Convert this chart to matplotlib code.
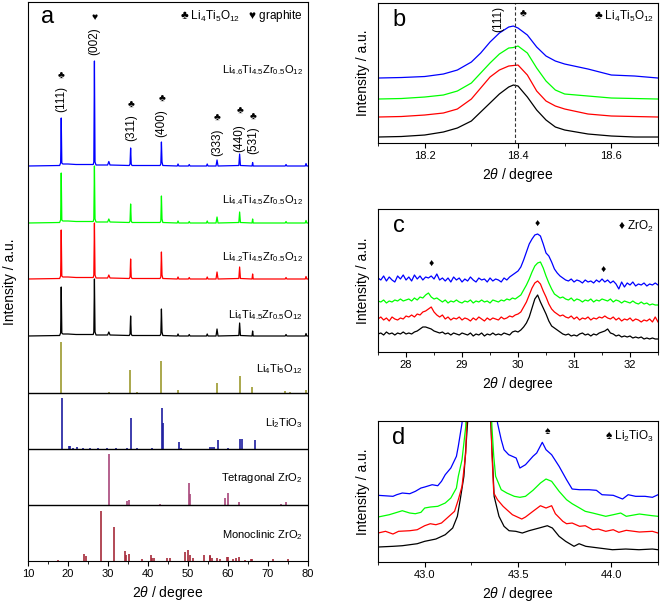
import matplotlib
matplotlib.use("Agg")
import matplotlib.pyplot as plt
from matplotlib.ticker import MultipleLocator, FormatStrFormatter

plt.rcParams['font.family'] = ['Liberation Sans', 'DejaVu Sans']
plt.rcParams['mathtext.fontset'] = 'custom'
plt.rcParams['mathtext.rm'] = 'Liberation Sans'
plt.rcParams['mathtext.it'] = 'Liberation Sans:italic'
plt.rcParams['mathtext.default'] = 'rm'

# ---------------- panel a : full patterns ----------------
two_theta_a = [10, 17.9, 18.15, 18.3, 18.45, 18.7, 20, 22, 24, 26.3, 26.45, 26.6, 26.75, 27,
               29.9, 30.2, 30.5, 35.3, 35.5, 35.65, 35.8, 36.0, 43.0, 43.2, 43.35, 43.5, 43.7,
               47.3, 47.5, 47.7, 50.1, 50.3, 50.5, 54.6, 54.8, 55.0, 57.0, 57.25, 57.5,
               62.7, 62.9, 63.1, 66.0, 66.15, 66.3, 74.3, 74.5, 74.7, 79.3, 79.5, 79.7, 80]
li46_a = [0, 0.5, 3, 48, 3, 2, 2, 1.5, 1.5, 1.5, 4, 105, 4, 1, 1, 4.5, 1, 0.5, 2, 18, 2, 0.5,
          0.5, 2, 24, 4, 0.5, 0, 2, 0, 0, 1.5, 0, 0, 2, 0, 0, 6, 0, 0.5, 12, 0.5, 0, 3.5, 0,
          0, 1.5, 0, 0, 2.5, 0, 0]
li44_a = [0, 0.5, 3, 50, 3, 2, 2, 1.5, 1.5, 1.5, 4, 57, 4, 1, 1, 4, 1, 0.5, 2, 19, 2, 0.5,
          0.5, 2, 27, 4, 0.5, 0, 2, 0, 0, 1.5, 0, 0, 2, 0, 0, 6, 0, 0.5, 11, 0.5, 0, 4, 0,
          0, 1.5, 0, 0, 2.5, 0, 0]
li42_a = [0, 0.5, 3, 49, 3, 2, 2, 1.5, 1.5, 1.5, 4, 56, 4, 1, 1, 4, 1, 0.5, 2, 20, 2, 0.5,
          0.5, 2, 27, 4, 0.5, 0, 2, 0, 0, 1.5, 0, 0, 2, 0, 0, 7, 0, 0.5, 12, 0.5, 0, 5, 0,
          0, 1.5, 0, 0, 2.5, 0, 0]
li40_a = [0, 0.5, 3, 49, 3, 2, 2, 1.5, 1.5, 1.5, 4, 57, 4, 1, 1, 4, 1, 0.5, 2, 20, 2, 0.5,
          0.5, 2, 27, 4, 0.5, 0, 2, 0, 0, 1.5, 0, 0, 2, 0, 0, 7, 0, 0.5, 13, 0.5, 0, 5, 0,
          0, 1.5, 0, 0, 2.5, 0, 0]

lto_pos = [18.3, 30.2, 35.6, 37.3, 43.3, 47.4, 57.2, 62.9, 66.1, 74.3, 75.4, 79.4]
lto_int = [51, 1, 23, 1, 32, 3, 10, 17, 6, 2, 1, 3]
l2t_pos = [18.4, 20.3, 20.5, 21.2, 22.2, 23.7, 25.5, 27.4, 29.8, 32.0, 34.7, 35.8, 37.3,
           41.0, 43.6, 43.7, 47.7, 48.2, 55.6, 56.0, 56.6, 57.6, 60.0, 63.1, 63.4, 66.8]
l2t_int = [51, 3, 3, 1, 2, 0.7, 0.7, 0.5, 0.7, 0.7, 0.7, 31, 1, 0.5, 41, 26, 7, 1, 1.5, 1.5,
           1.5, 9, 1, 10, 10, 9]
tzr_pos = [30.2, 34.8, 35.2, 43.0, 50.2, 50.6, 59.3, 60.1, 62.8, 73.3, 74.5]
tzr_int = [51, 4, 5, 1, 22, 11, 7, 12, 3, 1, 3]
mzr_pos = [17.5, 24.0, 24.4, 28.2, 31.5, 34.2, 34.4, 35.3, 38.6, 40.7, 41.0, 41.4, 44.8, 45.5,
           49.3, 50.1, 50.6, 51.2, 54.1, 55.4, 55.6, 56.0, 57.2, 58.0, 59.8, 60.0, 61.3, 62.0,
           62.8, 64.2, 65.7, 66.0, 71.2, 75.0]
mzr_int = [1, 7, 5, 50, 34, 10, 6, 7, 2, 6, 3, 3, 3, 3, 9, 11, 6, 3, 6, 6, 5, 3, 3, 2, 4, 4,
           2, 3, 4, 1, 2, 2, 2, 2]

# ---------------- panel b : (111) ----------------
two_theta_b = [18.10, 18.15, 18.20, 18.24, 18.27, 18.30, 18.32, 18.34, 18.36, 18.38, 18.39,
               18.40, 18.42, 18.44, 18.46, 18.48, 18.50, 18.55, 18.60, 18.65, 18.70]
li40_b = [6, 6.5, 8, 11, 15, 22, 31, 40, 49, 56, 58, 57, 46, 33, 23, 16, 13, 9, 7, 6, 6]
li42_b = [26, 26.5, 28, 30, 34, 44, 55, 66, 73, 77, 77.5, 78, 68, 52, 42, 37, 34, 29, 27, 26.5, 26]
li44_b = [44, 44.5, 46, 48, 52, 60, 70, 80, 89, 95, 95.5, 97, 90, 75, 62, 53, 49, 47, 45, 44.5, 44]
li46_b = [65, 65.5, 66.5, 69, 73, 81, 90, 101, 110, 116, 117, 115, 108, 96, 87, 82, 79, 74, 68, 67, 65]

# ---------------- panel c : ZrO2 region ----------------
two_theta_c = [27.50, 27.55, 27.60, 27.65, 27.70, 27.75, 27.80, 27.85, 27.90, 27.95,
               28.00, 28.05, 28.10, 28.15, 28.20, 28.25, 28.30, 28.35, 28.40, 28.45,
               28.50, 28.55, 28.60, 28.65, 28.70, 28.75, 28.80, 28.85, 28.90, 28.95,
               29.00, 29.05, 29.10, 29.15, 29.20, 29.25, 29.30, 29.35, 29.40, 29.45,
               29.50, 29.55, 29.60, 29.65, 29.70, 29.75, 29.80, 29.85, 29.90, 29.95,
               30.00, 30.05, 30.10, 30.15, 30.20, 30.25, 30.30, 30.35, 30.40, 30.45,
               30.50, 30.55, 30.60, 30.65, 30.70, 30.75, 30.80, 30.85, 30.90, 30.95,
               31.00, 31.05, 31.10, 31.15, 31.20, 31.25, 31.30, 31.35, 31.40, 31.45,
               31.50, 31.55, 31.60, 31.65, 31.70, 31.75, 31.80, 31.85, 31.90, 31.95,
               32.00, 32.05, 32.10, 32.15, 32.20, 32.25, 32.30, 32.35, 32.40, 32.45, 32.50]
li40_c = [18, 19, 17, 20, 18, 19, 17, 19, 18, 20,
          18, 19, 18, 20, 21, 23, 25, 25, 24, 23,
          21, 20, 19, 20, 18, 19, 17, 19, 18, 17,
          19, 18, 17, 19, 16, 18, 17, 19, 16, 18,
          17, 19, 17, 18, 17, 19, 18, 17, 20, 21,
          20, 22, 25, 29, 35, 44, 53, 57, 50, 44,
          38, 31, 26, 24, 22, 20, 18, 17, 18, 16,
          17, 16, 18, 19, 17, 18, 16, 18, 17, 19,
          20, 21, 23, 19, 18, 16, 17, 15, 16, 15,
          16, 14, 15, 14, 15, 13, 14, 13, 14, 13, 13]
li42_c = [33, 35, 32, 34, 31, 35, 33, 32, 34, 33,
          36, 35, 37, 35, 38, 37, 40, 41, 43, 45,
          40, 37, 35, 37, 33, 35, 32, 34, 33, 35,
          32, 34, 33, 31, 34, 32, 35, 33, 31, 34,
          32, 34, 33, 32, 35, 33, 34, 36, 35, 37,
          38, 40, 45, 50, 57, 64, 69, 71, 68, 61,
          55, 48, 43, 40, 38, 36, 37, 35, 34, 36,
          33, 35, 32, 34, 33, 35, 32, 34, 33, 35,
          34, 36, 34, 33, 35, 32, 34, 31, 33, 32,
          34, 31, 33, 32, 30, 32, 31, 33, 30, 35, 30]
li44_c = [51, 50, 52, 49, 51, 50, 52, 51, 53, 51,
          52, 53, 51, 54, 52, 55, 54, 57, 59, 55,
          53, 54, 52, 50, 52, 49, 51, 50, 52, 50,
          49, 51, 50, 52, 49, 51, 50, 52, 50, 51,
          49, 52, 51, 50, 52, 51, 53, 52, 54, 53,
          55, 57, 62, 67, 73, 80, 86, 89, 90, 84,
          76, 69, 63, 58, 56, 54, 55, 53, 52, 54,
          51, 53, 52, 50, 52, 51, 53, 50, 52, 51,
          53, 52, 51, 53, 50, 52, 51, 49, 51, 50,
          49, 51, 49, 48, 50, 48, 49, 47, 48, 47, 47]
li46_c = [74, 72, 76, 71, 75, 72, 70, 76, 73, 77,
          72, 75, 71, 77, 73, 76, 72, 75, 74, 76,
          73, 78, 72, 74, 71, 74, 70, 75, 72, 74,
          70, 73, 71, 75, 72, 70, 74, 72, 73, 70,
          74, 71, 73, 72, 70, 74, 72, 75, 77, 79,
          81, 85, 92, 100, 108, 113, 117, 118, 116, 108,
          99, 96, 90, 83, 79, 76, 74, 72, 71, 73,
          70, 72, 71, 69, 72, 70, 71, 69, 72, 70,
          73, 70, 72, 69, 71, 68, 63, 70, 65, 69,
          67, 70, 66, 68, 67, 69, 66, 68, 67, 69, 67]

# ---------------- panel d : Li2TiO3 region ----------------
li40_d_x = [42.75, 42.83, 42.88, 42.92, 42.96, 43.00, 43.06, 43.11, 43.15, 43.175, 43.19,
            43.21, 43.23, 43.26, 43.33, 43.354, 43.372, 43.398, 43.425, 43.452, 43.488,
            43.523, 43.559, 43.613, 43.657, 43.684, 43.72, 43.755, 43.80, 43.827, 43.863,
            43.934, 44.006, 44.077, 44.148, 44.22, 44.25]
li40_d = [15, 15.7, 16.3, 17.3, 18.3, 20.7, 23, 27.3, 34, 45.7, 62, 85.7, 140, 300, 300, 140,
          65.7, 45.7, 35.7, 31.3, 30.7, 29, 31.3, 34, 36.3, 34, 25.7, 20.7, 15.7, 18.3, 15.7,
          14, 12.3, 13, 12.3, 13, 12.3]
li42_d_x = [42.75, 42.79, 42.83, 42.86, 42.92, 42.96, 43.00, 43.03, 43.06, 43.09, 43.12,
            43.16, 43.18, 43.20, 43.22, 43.25, 43.33, 43.36, 43.37, 43.39, 43.42, 43.44,
            43.47, 43.52, 43.54, 43.58, 43.62, 43.65, 43.68, 43.70, 43.74, 43.76, 43.79,
            43.83, 43.86, 43.90, 43.93, 43.97, 44.01, 44.04, 44.08, 44.15, 44.22, 44.25]
li42_d = [29, 30.7, 28, 30.7, 31.3, 32.3, 36.3, 38.3, 37.3, 39, 44, 50.7, 62.3, 75.7, 109,
          300, 300, 109, 69, 62.3, 55.7, 52.3, 47.3, 43, 45, 50.7, 56.3, 54, 56.3, 48.3, 40.7,
          38.3, 39, 35.7, 36.3, 32.3, 33, 30.7, 32.3, 29.7, 31.7, 30, 30.7, 29]
li44_d_x = [42.75, 42.81, 42.84, 42.88, 42.92, 42.95, 42.98, 43.00, 43.03, 43.07, 43.11,
            43.14, 43.17, 43.18, 43.20, 43.22, 43.25, 43.33, 43.36, 43.37, 43.38, 43.41,
            43.44, 43.48, 43.51, 43.54, 43.58, 43.62, 43.65, 43.68, 43.72, 43.76, 43.79,
            43.83, 43.86, 43.90, 43.97, 44.01, 44.05, 44.08, 44.15, 44.22, 44.25]
li44_d = [45, 47.3, 49, 51.3, 49, 48.3, 49.7, 54, 55, 55.7, 59, 64, 74, 85.7, 102.3, 135.7,
          300, 300, 135.7, 105.7, 85.7, 72.3, 69, 65.7, 64.7, 65.7, 71.7, 79, 83, 80.7, 70.7,
          62.3, 58.3, 54, 50.7, 49, 45.7, 47.3, 49, 45.7, 48, 46.3, 45.7]
li46_d_x = [42.75, 42.83, 42.85, 42.88, 42.92, 42.95, 42.98, 43.00, 43.04, 43.07, 43.09,
            43.11, 43.14, 43.17, 43.18, 43.20, 43.23, 43.35, 43.39, 43.41, 43.425, 43.45,
            43.49, 43.51, 43.54, 43.58, 43.60, 43.63, 43.65, 43.68, 43.72, 43.76, 43.79,
            43.83, 43.88, 43.92, 43.95, 44.01, 44.06, 44.09, 44.13, 44.18, 44.22, 44.25]
li46_d = [66.7, 65.7, 67.3, 69, 68.3, 70.7, 74, 75, 77.3, 76.3, 80.7, 87.3, 94, 105.7, 115.7,
          139, 300, 300, 139, 122.3, 112.3, 107.3, 104, 94, 97.3, 105.7, 109, 119.7, 112.3,
          107.3, 95.7, 82.3, 73, 72.3, 72.3, 71.7, 67.3, 66.7, 63, 67.3, 65.7, 65.7, 64.7, 67.3]

colors = {'li46': '#0000ff', 'li44': '#00ff00', 'li42': '#ff0000', 'li40': 'black'}
ref_colors = ['#9c9a2e', '#1c1ca0', '#a8467a', '#a52a3a']

fig = plt.figure(figsize=(6.61, 6.07), dpi=100)

# ---- panel a ----
ax = fig.add_axes([0.0424, 0.0758, 0.4236, 0.9209])
offsets = {'li40': 225, 'li42': 282, 'li44': 338, 'li46': 395}
for key, ys in [('li40', li40_a), ('li42', li42_a), ('li44', li44_a), ('li46', li46_a)]:
    ax.plot(two_theta_a, [offsets[key] + v for v in ys], color=colors[key], lw=0.9)

refs = [(lto_pos, lto_int, 168), (l2t_pos, l2t_int, 112), (tzr_pos, tzr_int, 56), (mzr_pos, mzr_int, 0)]
for (pos, inten, base), c in zip(refs, ref_colors):
    ax.vlines(pos, base, [base + h for h in inten], color=c, lw=1.2)
for base in [168, 112, 56]:
    ax.axhline(base, color='black', lw=1.0)

ax.set_xlim(10, 80)
ax.set_ylim(0, 559)
ax.set_yticks([])
ax.xaxis.set_major_locator(MultipleLocator(10))
ax.xaxis.set_minor_locator(MultipleLocator(5))
ax.tick_params(axis='x', which='major', direction='out', length=3.5, labelsize=8, pad=2)
ax.tick_params(axis='x', which='minor', direction='out', length=2)
ax.set_xlabel(r'2$\mathit{\theta}$ / degree', fontsize=10, labelpad=4)
ax.set_ylabel('Intensity / a.u.', fontsize=10, labelpad=8)

fs = 8
ax.text(78.7, 491, r'Li$_{4.6}$Ti$_{4.5}$Zr$_{0.5}$O$_{12}$', ha='right', va='center', fontsize=fs)
ax.text(78.7, 361, r'Li$_{4.4}$Ti$_{4.5}$Zr$_{0.5}$O$_{12}$', ha='right', va='center', fontsize=fs)
ax.text(78.7, 304, r'Li$_{4.2}$Ti$_{4.5}$Zr$_{0.5}$O$_{12}$', ha='right', va='center', fontsize=fs)
ax.text(78.7, 246, r'Li$_{4}$Ti$_{4.5}$Zr$_{0.5}$O$_{12}$', ha='right', va='center', fontsize=fs)
ax.text(78.7, 192, r'Li$_{4}$Ti$_{5}$O$_{12}$', ha='right', va='center', fontsize=fs)
ax.text(78.7, 138, r'Li$_{2}$TiO$_{3}$', ha='right', va='center', fontsize=fs)
ax.text(78.7, 83, r'Tetragonal ZrO$_{2}$', ha='right', va='center', fontsize=fs)
ax.text(78.7, 26, r'Monoclinic ZrO$_{2}$', ha='right', va='center', fontsize=fs)

peak_labels = [(18.3, 462, 485, '(111)', '\u2663'), (26.6, 520, 544, '(002)', '\u2665'),
               (35.7, 433, 456, '(311)', '\u2663'), (43.4, 438, 462, '(400)', '\u2663'),
               (57.2, 419, 443, '(333)', '\u2663'), (62.9, 423, 450, '(440)', '\u2663'),
               (66.2, 421, 444, '(531)', '\u2663')]
for x, yl, ys, lab, sym in peak_labels:
    ax.text(x, yl, lab, rotation=90, ha='center', va='center', fontsize=8.5)
    ax.text(x, ys, sym, ha='center', va='center', fontsize=7.5)
ax.text(78.7, 545, '\u2663 Li$_{4}$Ti$_{5}$O$_{12}$   \u2665 graphite', ha='right', va='center',
        fontsize=8.5)
ax.text(14.8, 544, 'a', ha='center', va='center', fontsize=17)

# ---- panels b, c, d ----
def small_panel(rect, ylim, xlim, major, minor, fmt, letter):
    a = fig.add_axes(rect)
    a.set_xlim(*xlim)
    a.set_ylim(0, ylim)
    a.set_yticks([])
    a.xaxis.set_major_locator(MultipleLocator(major))
    a.xaxis.set_minor_locator(MultipleLocator(minor))
    a.xaxis.set_major_formatter(FormatStrFormatter(fmt))
    a.tick_params(axis='x', which='major', direction='out', length=3.5, labelsize=8, pad=2)
    a.tick_params(axis='x', which='minor', direction='out', length=2)
    a.set_xlabel(r'2$\mathit{\theta}$ / degree', fontsize=10, labelpad=4)
    a.set_ylabel('Intensity / a.u.', fontsize=10, labelpad=6)
    a.text(0.075, 0.88, letter, transform=a.transAxes, ha='center', va='center', fontsize=17)
    return a

axb = small_panel([0.5719, 0.7644, 0.4236, 0.2306], 140, (18.1, 18.7), 0.2, 0.1, '%.1f', 'b')
for key, ys in [('li40', li40_b), ('li42', li42_b), ('li44', li44_b), ('li46', li46_b)]:
    axb.plot(two_theta_b, ys, color=colors[key], lw=0.9)
axb.axvline(18.393, color='#333333', lw=0.8, ls=(0, (3, 2)))
axb.text(18.358, 124, '(111)', rotation=90, ha='center', va='center', fontsize=8.5)
axb.text(18.41, 129, '\u2663', ha='center', va='center', fontsize=7.5)
axb.text(0.985, 0.905, '\u2663 Li$_{4}$Ti$_{5}$O$_{12}$', transform=axb.transAxes,
         ha='right', va='center', fontsize=8.5)

axc = small_panel([0.5719, 0.4201, 0.4236, 0.2356], 143, (27.5, 32.5), 1, 0.5, '%d', 'c')
for key, ys in [('li40', li40_c), ('li42', li42_c), ('li44', li44_c), ('li46', li46_c)]:
    axc.plot(two_theta_c, ys, color=colors[key], lw=0.9)
for x, y in [(28.45, 88), (30.35, 128), (31.52, 82)]:
    axc.text(x, y, '\u2666', ha='center', va='center', fontsize=7.5)
axc.text(0.985, 0.88, '\u2666 ZrO$_{2}$', transform=axc.transAxes, ha='right', va='center',
         fontsize=8.5)

axd = small_panel([0.5719, 0.0741, 0.4236, 0.2323], 141, (42.75, 44.25), 0.5, 0.25, '%.1f', 'd')
for key, xs, ys in [('li40', li40_d_x, li40_d), ('li42', li42_d_x, li42_d),
                    ('li44', li44_d_x, li44_d), ('li46', li46_d_x, li46_d)]:
    axd.plot(xs, ys, color=colors[key], lw=0.9)
axd.text(43.66, 131, '\u2660', ha='center', va='center', fontsize=7.5)
axd.text(0.985, 0.89, '\u2660 Li$_{2}$TiO$_{3}$', transform=axd.transAxes, ha='right',
         va='center', fontsize=8.5)

fig.savefig('out.png', dpi=100)
